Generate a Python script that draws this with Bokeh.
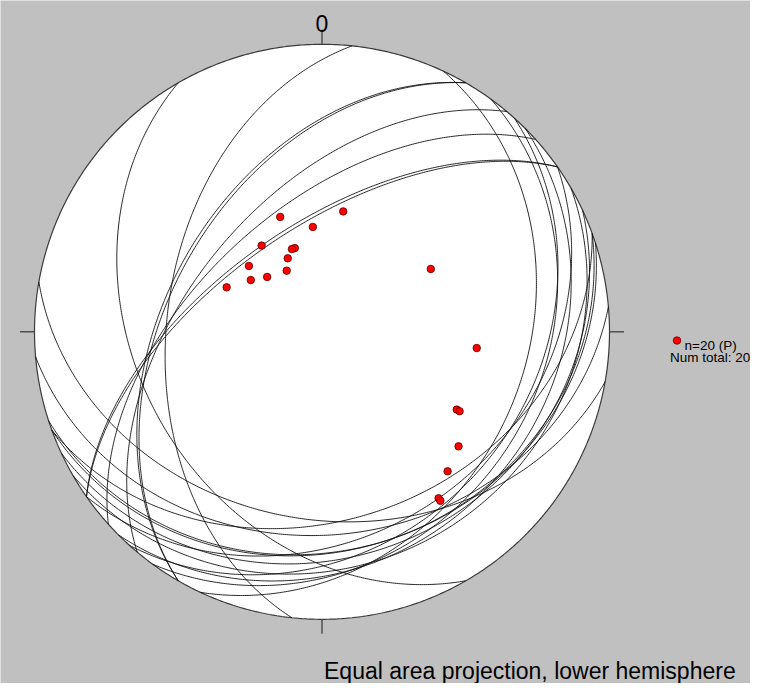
import numpy as np
from bokeh.plotting import figure
from bokeh.models import Range1d
from bokeh.core.properties import value
from bokeh.embed import file_html
from bokeh.resources import INLINE

# ---- data: poles to planes (trend, plunge in degrees) ----
pole_trend = [10, 340, 355, 325, 342, 340, 335, 312, 330, 315,
              306, 295, 60, 96, 120, 120, 130, 138, 145, 145]
pole_plunge = [55, 55, 60, 60, 65, 65, 67, 62, 70, 68,
               65, 60, 54, 45, 45, 44, 38, 35, 30, 29]
north_label = "0"
legend_lines = ["n=20 (P)", "Num total: 20"]
footer = "Equal area projection, lower hemisphere"

# ---- layout (figure pixels; page = figure + 8px margin) ----
W, H = 750, 683
M = 8
CX, CY, R = 329.5 - M, 339.3 - M, 287.5   # centre of net inside the figure, radius


def fy(page_y):
    return (CY - (page_y - M)) / R


def fx(page_x):
    return (page_x - M - CX) / R


def proj(e, n, d):
    s = 1.0 / np.sqrt(1.0 + d)
    return e * s, n * s


# poles
tr = np.radians(pole_trend)
pl = np.radians(pole_plunge)
px, py = proj(np.cos(pl) * np.sin(tr), np.cos(pl) * np.cos(tr), np.sin(pl))

# great circles of the planes
xs, ys = [], []
a = np.linspace(0, np.pi, 361)
for t, pp in zip(pole_trend, pole_plunge):
    dd = np.radians(t + 180.0)
    dip = np.radians(90.0 - pp)
    st = dd - np.pi / 2
    s = np.array([np.sin(st), np.cos(st), 0.0])
    v = np.array([np.cos(dip) * np.sin(dd), np.cos(dip) * np.cos(dd), np.sin(dip)])
    L = np.outer(np.cos(a), s) + np.outer(np.sin(a), v)
    gx, gy = proj(L[:, 0], L[:, 1], np.clip(L[:, 2], 0, 1))
    xs.append(list(gx))
    ys.append(list(gy))

p = figure(width=W, height=H, output_backend="svg", toolbar_location=None,
           min_border=0, x_range=Range1d(-CX / R, (W - CX) / R),
           y_range=Range1d(-(H - CY) / R, CY / R))
p.axis.visible = False
p.grid.visible = False
p.outline_line_color = None
p.background_fill_color = "#C0C0C0"
p.border_fill_color = "#C0C0C0"

# primitive circle
th = np.linspace(0, 2 * np.pi, 721)
p.patch(np.cos(th), np.sin(th), fill_color="white", line_color="#3a3a3a", line_width=1.2)

# ticks at N, E, S, W
tk = 14.5 / R
p.segment(x0=[0, 1, 0, -1], y0=[1, 0, -1, 0], x1=[0, 1 + tk, 0, -1 - tk],
          y1=[1 + tk, 0, -1 - tk, 0], line_color="#505050", line_width=1.5)

# great circles
p.multi_line(xs, ys, line_color="#111111", line_width=1, line_alpha=0.9)

# poles
p.scatter(px, py, size=7.5, fill_color="#ff0000", line_color="#600000", line_width=0.8)

# north label
p.text(x=[0], y=[fy(31)], text=[north_label], text_align="center",
       text_baseline="alphabetic", text_font=value("Liberation Sans"),
       text_font_size="23px", text_color="#000000")

# legend
p.scatter([fx(684.5)], [fy(348)], size=7.5, fill_color="#ff0000",
          line_color="#600000", line_width=0.8)
p.text(x=[fx(692)], y=[fy(352.5)], text=[legend_lines[0]],
       text_align="left", text_baseline="alphabetic", text_font=value("Liberation Sans"),
       text_font_size="13.5px", text_color="#000000")
p.text(x=[fx(677.5)], y=[fy(364.5)], text=[legend_lines[1]],
       text_align="left", text_baseline="alphabetic", text_font=value("Liberation Sans"),
       text_font_size="13.5px", text_color="#000000")

# footer
p.text(x=[fx(331.5)], y=[fy(678.5)], text=[footer],
       text_align="left", text_baseline="alphabetic", text_font=value("Liberation Sans"),
       text_font_size="23px", text_color="#000000")

open("out.html", "w").write(file_html(p, INLINE))
